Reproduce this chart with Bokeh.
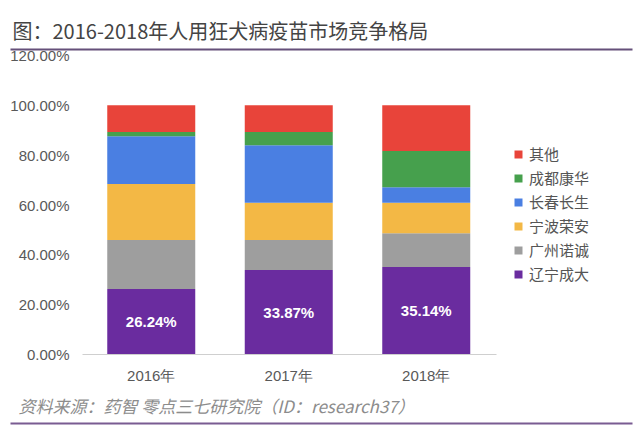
from bokeh.plotting import figure
from bokeh.models import (ColumnDataSource, Range1d, FactorRange, FixedTicker, PrintfTickFormatter,
                          Legend, LegendItem, LabelSet, Title, ColorBar, LinearColorMapper)
from bokeh.core.properties import value
from bokeh.embed import file_html
from bokeh.resources import INLINE

# ---- data ----
years = ["2016年", "2017年", "2018年"]
liaoning_chengda = [26.24, 33.87, 35.14]   # 辽宁成大
guangzhou_nuocheng = [19.76, 12.13, 13.56]  # 广州诺诚
ningbo_rongan = [22.4, 14.9, 12.2]          # 宁波荣安
changchun_changsheng = [19.2, 23.1, 6.2]    # 长春长生
chengdu_kanghua = [1.7, 5.3, 14.6]          # 成都康华
others = [10.7, 10.7, 18.3]                 # 其他
series_names = ["辽宁成大", "广州诺诚", "宁波荣安", "长春长生", "成都康华", "其他"]
y_ticks = [0, 20, 40, 60, 80, 100, 120]
title_text = "图：2016-2018年人用狂犬病疫苗市场竞争格局"
source_text = "资料来源：药智 零点三七研究院（ID：research37）"

colors = ["#6A2C9F", "#9E9E9E", "#F3B845", "#4A7FE2", "#46A04D", "#E8443A"]

data = dict(year=years)
for name, vals in zip(series_names, [liaoning_chengda, guangzhou_nuocheng, ningbo_rongan,
                                     changchun_changsheng, chengdu_kanghua, others]):
    data[name] = vals
src = ColumnDataSource(data)

# an empty slot on the right of the categorical range leaves room for the legend
p = figure(x_range=FactorRange(*(years + [" "])), y_range=Range1d(0, 120),
           width=640, height=427, output_backend="svg", toolbar_location=None,
           min_border_left=82, min_border_right=8, min_border_top=55, min_border_bottom=72)
p.outline_line_color = None
p.background_fill_color = "white"
p.border_fill_color = "white"
p.xgrid.grid_line_color = None
p.ygrid.grid_line_color = None

rs = p.vbar_stack(series_names, x="year", width=0.64, color=colors, line_color=None, source=src)

p.yaxis.ticker = FixedTicker(ticks=y_ticks)
p.yaxis.formatter = PrintfTickFormatter(format="%.2f%%")
p.yaxis.axis_line_color = None
p.yaxis.major_tick_line_color = None
p.yaxis.minor_tick_line_color = None
p.yaxis.major_label_standoff = 7
p.yaxis.major_label_text_font = "Liberation Sans"
p.yaxis.major_label_text_font_size = "15px"
p.yaxis.major_label_text_color = "#595959"

p.xaxis.bounds = (0, 3.01)
p.xaxis.axis_line_color = "#cfcfcf"
p.xaxis.axis_line_width = 1
p.xaxis.major_tick_line_color = None
p.xaxis.minor_tick_line_color = None
p.xaxis.major_label_standoff = 6
p.xaxis.major_label_text_font = "Liberation Sans"
p.xaxis.major_label_text_font_size = "15px"
p.xaxis.major_label_text_color = "#595959"

lab_src = ColumnDataSource(dict(year=years, y=[v / 2 for v in liaoning_chengda],
                                txt=["%.2f%%" % v for v in liaoning_chengda]))
p.add_layout(LabelSet(x="year", y="y", text="txt", source=lab_src, text_align="center",
                      text_baseline="middle", text_color="white", text_font_style="bold",
                      text_font=value("Liberation Sans"), text_font_size="15px"))

items = [LegendItem(label=n, renderers=[r]) for n, r in zip(series_names, rs)][::-1]
leg = Legend(items=items, location=(431, 70), orientation="vertical",
             glyph_width=10, glyph_height=10, label_height=20, spacing=3,
             label_standoff=6, padding=0, margin=0,
             label_text_font="Noto Sans CJK SC", label_text_font_size="15px",
             label_text_color="#555555", border_line_color=None,
             background_fill_alpha=0)
p.add_layout(leg, "center")

# title (above) and its underline
p.title.text = title_text
p.title.align = "left"
p.title.offset = -70
p.title.standoff = 8
p.title.text_font = "Noto Sans CJK SC"
p.title.text_font_size = "20px"
p.title.text_font_style = "normal"
p.title.text_color = "#444444"


def rule_bar(color, w, loc):
    return ColorBar(color_mapper=LinearColorMapper(palette=[color], low=0, high=1),
                    orientation="horizontal", width=w, height=2, location=loc,
                    padding=0, margin=0, ticker=FixedTicker(ticks=[]),
                    major_tick_line_color=None, minor_tick_line_color=None,
                    bar_line_color=None, border_line_color=None, background_fill_alpha=0,
                    major_label_text_font_size="1px")


p.add_layout(rule_bar("#65507A", 622, (-72, 5)), "above")

foot = Title(text=source_text, align="left", offset=-64, text_font="Noto Sans CJK SC",
             text_font_size="17px", text_font_style="italic", text_color="#8c8c8c",
             standoff=9)
p.add_layout(foot, "below")
p.add_layout(rule_bar("#7A5C92", 622, (-72, 3)), "below")

open("out.html", "w").write(file_html(p, INLINE))
